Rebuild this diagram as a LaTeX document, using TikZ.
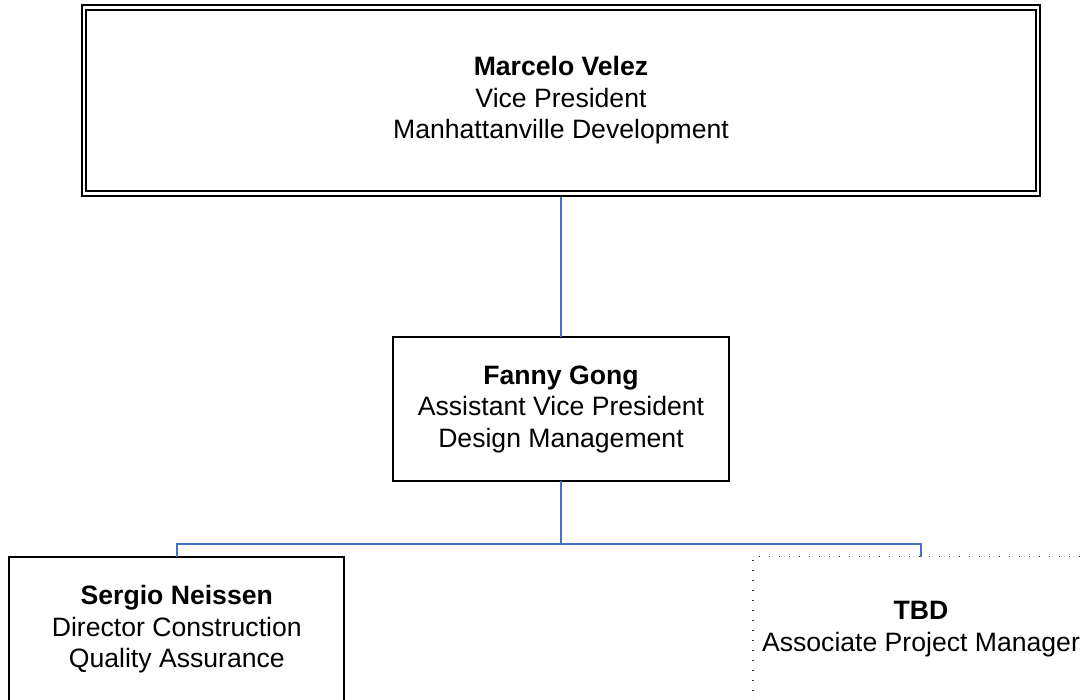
\documentclass[tikz,border=0pt]{standalone}
\usepackage{fontspec}
\setmainfont{Liberation Sans}
\usepackage{xcolor}
\definecolor{linkblue}{RGB}{68,114,196}
\begin{document}
\begin{tikzpicture}[
  x=0.5pt, y=-0.5pt,
  every node/.style={align=center},
  base/.style  = {draw=black, line width=1pt, outer sep=0pt, inner sep=2pt, text=black,
                  font=\fontsize{13.3}{15.75}\selectfont},
  vpnd/.style  = {base, double, double distance=1.25pt, outer sep=1.625pt,
                  minimum width=477pt, minimum height=93.2pt},
  avpnd/.style = {base, minimum width=168pt, minimum height=72pt},
  dirnd/.style = {base, minimum width=167.5pt, minimum height=72.5pt},
  tbdnd/.style = {base, draw=black!80, line width=0.75pt, dash pattern=on 0.75pt off 4.25pt,
                  minimum width=168pt, minimum height=72.5pt},
  link/.style  = {draw=linkblue, line width=1pt}
]
\useasboundingbox (0,0) rectangle (1083,700);
\node[vpnd] (vp) at (561, 100.5)
  {\textbf{Marcelo Velez} \\ Vice President \\ Manhattanville Development};
\node[avpnd] (avp) at (561, 409)
  {\textbf{Fanny Gong} \\ Assistant Vice President \\ Design Management};
\node[dirnd] (dir) at (176.8, 629.4)
  {\textbf{Sergio Neissen} \\ Director Construction \\ Quality Assurance};
\node[tbdnd] (apm) at (921, 629)
  {\textbf{TBD} \\ Associate Project Manager};

\draw[link] (vp) -- (avp);
\coordinate (teamSplit) at (561, 544.5);
\draw[link] (avp.south) -- (teamSplit) -| (dir.north);
\draw[link] (avp.south) -- (teamSplit) -| (apm.north);
\end{tikzpicture}
\end{document}
